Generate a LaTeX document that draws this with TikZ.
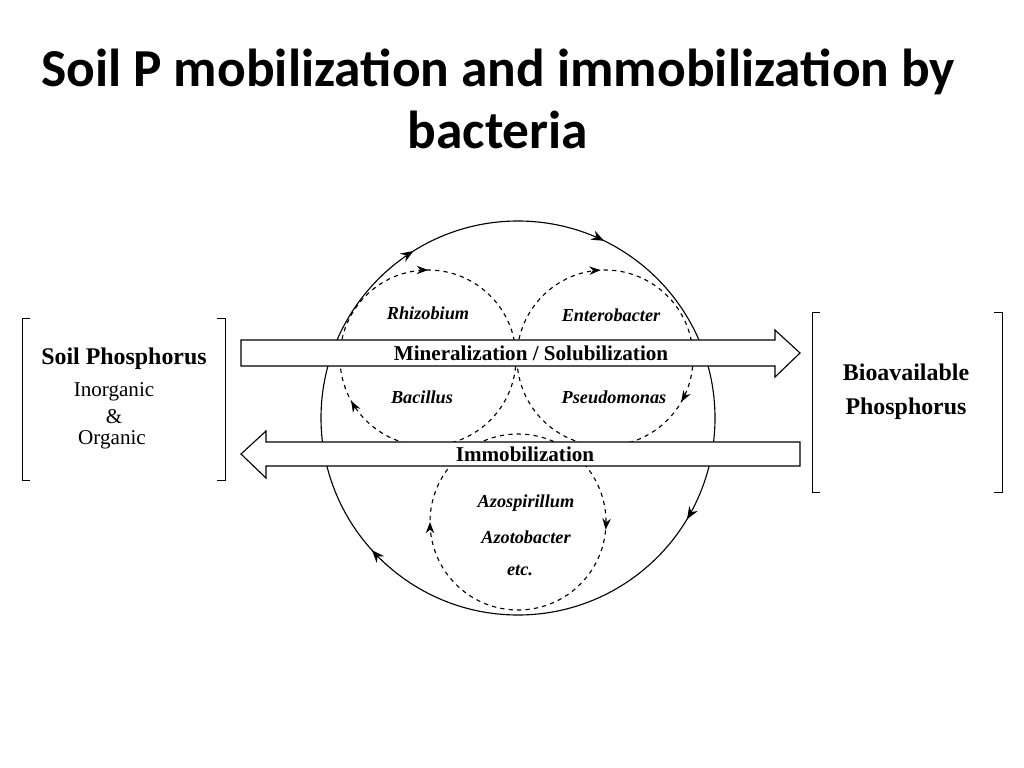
\documentclass[tikz,border=0pt]{standalone}
\usepackage{fontspec}
\setmainfont{Liberation Serif}
\newfontfamily\titlefont{Carlito}
\usetikzlibrary{decorations.markings,arrows.meta,positioning}
\tikzset{
  lbl/.style={font=\bfseries\itshape\fontsize{13}{15}\selectfont},
  side/.style={font=\bfseries\fontsize{15}{17}\selectfont},
  big/.style={font=\bfseries\fontsize{17}{19}\selectfont},
  plain/.style={font=\fontsize{15}{17}\selectfont},
  flow/.style={draw,thick,fill=white},
  ring/.style={thick},
  dring/.style={thick,dashed},
}
\begin{document}
\begin{tikzpicture}[x=0.025cm,y=-0.025cm]
    \useasboundingbox (0,0) rectangle (1024,768);
    \node[font=\titlefont\bfseries\fontsize{38}{44}\selectfont] (t1) at (498,72) {Soil P mobilization and immobilization by};
    \node[font=\titlefont\bfseries\fontsize{38}{44}\selectfont] (t2) at (498,130) {bacteria};

    % cycles
    \draw[ring,postaction={decorate,decoration={markings,
        mark=at position 0.086 with {\arrow{Stealth[length=9pt,width=7pt]}},
        mark=at position 0.383 with {\arrow{Stealth[length=9pt,width=7pt]}},
        mark=at position 0.661 with {\arrow{Stealth[length=9pt,width=7pt]}},
        mark=at position 0.822 with {\arrow{Stealth[length=9pt,width=7pt]}}}}]
        (715,418) arc[start angle=0,end angle=360,radius=197];
    \draw[dring,postaction={decorate,decoration={markings,
        mark=at position 0.419 with {\arrow[solid]{Stealth[length=8pt,width=6pt]}},
        mark=at position 0.75 with {\arrow[solid]{Stealth[length=8pt,width=6pt]}}}}]
        (516,358) arc[start angle=0,end angle=360,radius=88];
    \draw[dring,postaction={decorate,decoration={markings,
        mark=at position 0.083 with {\arrow[solid]{Stealth[length=8pt,width=6pt]}},
        mark=at position 0.742 with {\arrow[solid]{Stealth[length=8pt,width=6pt]}}}}]
        (693,358) arc[start angle=0,end angle=360,radius=88];
    \draw[dring,postaction={decorate,decoration={markings,
        mark=at position 0.014 with {\arrow[solid]{Stealth[length=8pt,width=6pt]}},
        mark=at position 0.5 with {\arrow[solid]{Stealth[length=8pt,width=6pt]}}}}]
        (606,522) arc[start angle=0,end angle=360,radius=88];

    % flow arrows
    \draw[flow] (241,340) -- (775,340) -- (775,330) -- (800,353) -- (775,377) -- (775,366) -- (241,366) -- cycle;
    \draw[flow] (800,442) -- (266,442) -- (266,431) -- (241,454) -- (266,478) -- (266,466) -- (800,466) -- cycle;
    \node[side] (min) at (531,353) {Mineralization / Solubilization};
    \node[side] (imm) at (525,454) {Immobilization};

    \node[lbl] (rhi) at (428,313) {Rhizobium};
    \node[lbl] (ent) at (611,315) {Enterobacter};
    \node[lbl] (bac) at (422,397) {Bacillus};
    \node[lbl] (pse) at (614,397) {Pseudomonas};
    \node[lbl] (azs) at (526,503) {Azospirillum};
    \node[lbl] (azt) at (526,537) {Azotobacter};
    \node[lbl] (etc) at (520,570) {etc.};

    % brackets
    \draw[thin] (30,318) -- (22,318) -- (22,480) -- (30,480);
    \draw[thin] (217,318) -- (225,318) -- (225,480) -- (217,480);
    \draw[thin] (820,312) -- (812,312) -- (812,492) -- (820,492);
    \draw[thin] (994,312) -- (1002,312) -- (1002,492) -- (994,492);

    \node[big] (soil) at (124,359) {Soil Phosphorus};
    \node[plain] (ino) at (114,392) {Inorganic};
    \node[plain] (amp) at (114,417) {\&};
    \node[plain] (org) at (112,440) {Organic};
    \node[big] (bio) at (906,372) {Bioavailable};
    \node[big] (pho) at (906,409) {Phosphorus};
\end{tikzpicture}
\end{document}
